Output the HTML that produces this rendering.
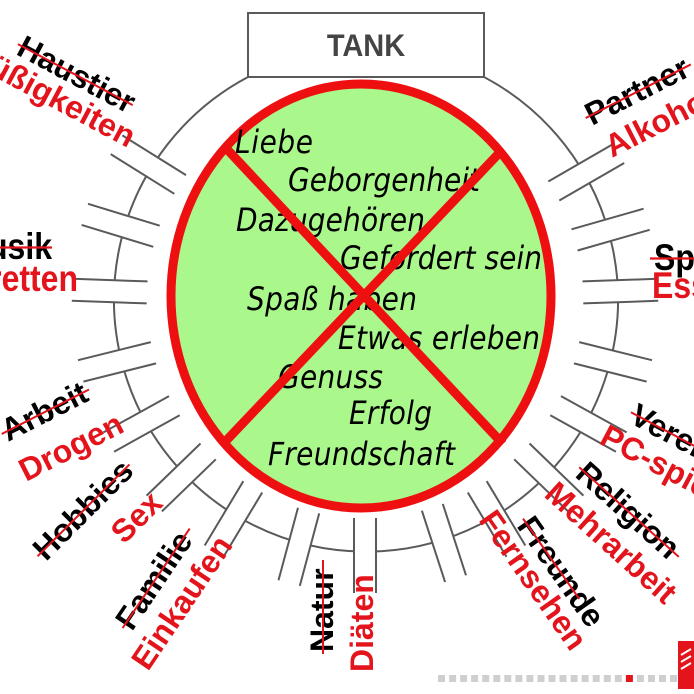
<!DOCTYPE html>
<html><head><meta charset="utf-8"><style>
html,body{margin:0;padding:0;background:#fff;}
svg{display:block;}
.lb{font-family:"Liberation Sans",Arial,sans-serif;font-weight:bold;font-size:32px;}
.k{fill:#000;} .r{fill:#e3141c;}
.it{font-family:"DejaVu Sans",sans-serif;font-style:oblique;font-size:28px;fill:#000;}
</style></head><body>
<svg id="s" width="694" height="694" viewBox="0 0 694 694" xmlns="http://www.w3.org/2000/svg">
<rect width="694" height="694" fill="#fff"/>
<path d="M248 77 A252 252 0 1 0 484 77" fill="none" stroke="#5a5a5a" stroke-width="2"/>
<g id="pipes"></g>
<rect x="248" y="13" width="236" height="64" fill="#fff" stroke="#5a5a5a" stroke-width="2"/>
<text x="366" y="56" text-anchor="middle" font-family="Liberation Sans,Arial,sans-serif" font-weight="bold" font-size="29" fill="#444" transform="matrix(1,0,0,1.1,0,-5.6)">TANK</text>
<ellipse cx="361" cy="296" rx="190" ry="212" fill="#aaf78c" stroke="#ee1010" stroke-width="9"/>
<g class="it">
<text x="235" y="153" textLength="78" transform="matrix(1,0,0,1.15,0,-23)">Liebe</text>
<text x="288" y="191" textLength="192" transform="matrix(1,0,0,1.15,0,-28.7)">Geborgenheit</text>
<text x="236" y="231" textLength="189" transform="matrix(1,0,0,1.15,0,-34.7)">Dazugehören</text>
<text x="340" y="269" textLength="202" transform="matrix(1,0,0,1.15,0,-40.4)">Gefordert sein</text>
<text x="247" y="310" textLength="170" transform="matrix(1,0,0,1.15,0,-46.5)">Spaß haben</text>
<text x="338" y="349" textLength="202" transform="matrix(1,0,0,1.15,0,-52.4)">Etwas erleben</text>
<text x="278" y="388" textLength="105" transform="matrix(1,0,0,1.15,0,-58.2)">Genuss</text>
<text x="349" y="424" textLength="83" transform="matrix(1,0,0,1.15,0,-63.6)">Erfolg</text>
<text x="268" y="465" textLength="187" transform="matrix(1,0,0,1.15,0,-69.8)">Freundschaft</text>
</g>
<line x1="224" y1="146" x2="503" y2="444" stroke="#ee1010" stroke-width="9"/>
<line x1="503" y1="149" x2="223" y2="444" stroke="#ee1010" stroke-width="9"/>

<g class="lb">
<g transform="translate(128,114) rotate(28)"><text class="k" text-anchor="end">Haustier</text><line x1="-130" y1="-10" x2="0" y2="-10" stroke="#e3141c" stroke-width="2"/></g>
<g transform="translate(128,148) rotate(28)"><text class="r" text-anchor="end">Süßigkeiten</text></g>
<g transform="translate(52,259) scale(1,1.15)"><text class="k" text-anchor="end">Musik</text><line x1="-70" y1="-10" x2="0" y2="-10" stroke="#e3141c" stroke-width="2"/></g>
<g transform="translate(78,291) scale(1,1.15)"><text class="r" text-anchor="end">Zigaretten</text></g>
<g transform="translate(8,442) rotate(-27)"><text class="k">Arbeit</text><line x1="-2" y1="-10" x2="96" y2="-10" stroke="#e3141c" stroke-width="2"/></g>
<g transform="translate(26,482) rotate(-27)"><text class="r">Drogen</text></g>
<g transform="translate(46,562) rotate(-45)"><text class="k">Hobbies</text><line x1="-2" y1="-10" x2="128" y2="-10" stroke="#e3141c" stroke-width="2"/></g>
<g transform="translate(124,545) rotate(-45)"><text class="r">Sex</text></g>
<g transform="translate(132,632) rotate(-56)"><text class="k">Familie</text><line x1="-2" y1="-10" x2="118" y2="-10" stroke="#e3141c" stroke-width="2"/></g>
<g transform="translate(148,672) rotate(-56)"><text class="r">Einkaufen</text></g>
<g transform="translate(333,652) rotate(-90)"><text class="k">Natur</text><line x1="-2" y1="-10" x2="92" y2="-10" stroke="#e3141c" stroke-width="2"/></g>
<g transform="translate(373,672) rotate(-90)"><text class="r">Diäten</text></g>
<g transform="translate(478,520) rotate(55)"><text class="r">Fernsehen</text></g>
<g transform="translate(516,526) rotate(55)"><text class="k">Freunde</text><line x1="-2" y1="-10" x2="96" y2="-10" stroke="#e3141c" stroke-width="2"/></g>
<g transform="translate(574,476) rotate(42)"><text class="k">Religion</text><line x1="-2" y1="-10" x2="132" y2="-10" stroke="#e3141c" stroke-width="2"/></g>
<g transform="translate(543,496) rotate(42)"><text class="r">Mehrarbeit</text></g>
<g transform="translate(628,422) rotate(28)"><text class="k">Vereine</text><line x1="-2" y1="-10" x2="124" y2="-10" stroke="#e3141c" stroke-width="2"/></g>
<g transform="translate(598,443) rotate(28)"><text class="r">PC-spielen</text></g>
<g transform="translate(654,270) scale(1,1.15)"><text class="k">Sport</text><line x1="-4" y1="-10" x2="90" y2="-10" stroke="#e3141c" stroke-width="2"/></g>
<g transform="translate(652,298) scale(1,1.15)"><text class="r">Essen</text></g>
<g transform="translate(592,126) rotate(-27)"><text class="k">Partner</text><line x1="-2" y1="-10" x2="116" y2="-10" stroke="#e3141c" stroke-width="2"/></g>
<g transform="translate(612,158) rotate(-27)"><text class="r">Alkohol</text></g>
</g>

<g id="dots"></g>
<rect x="678" y="641" width="16" height="48" fill="#e3141c"/>
<path d="M681 655 l10 -6 M681 662 l10 -6 M681 669 l10 -6" stroke="#fff" stroke-width="2"/>
</svg>
<script>
(function(){
var NS="http://www.w3.org/2000/svg",g=document.getElementById("pipes");
var cx=365,cy=300,angs=[105,121,136,151,166,182,197,212,90,72,59,44,29,14,-2,-16,-30];
function el(n,a){var e=document.createElementNS(NS,n);for(var k in a)e.setAttribute(k,a[k]);g.appendChild(e);return e;}
angs.forEach(function(a){
 var t=a*Math.PI/180,dx=Math.cos(t),dy=Math.sin(t),px=-dy,py=dx,h=11,r1=218,r2=293;
 function P(r,s){return [(cx+dx*r+px*h*s).toFixed(1),(cy+dy*r+py*h*s).toFixed(1)];}
 var a1=P(230,-1),a2=P(270,-1),b1=P(270,1),b2=P(230,1);
 el("polygon",{points:a1+" "+a2+" "+b1+" "+b2,fill:"#fff"});
 [-1,1].forEach(function(s){var p=P(r1,s),q=P(r2,s);el("line",{x1:p[0],y1:p[1],x2:q[0],y2:q[1],stroke:"#5a5a5a","stroke-width":2});});
});
var d=document.getElementById("dots");
for(var i=0;i<22;i++){var x=438+i*11.05;var r=document.createElementNS(NS,"rect");r.setAttribute("x",x.toFixed(1));r.setAttribute("y",675);r.setAttribute("width",7);r.setAttribute("height",7);r.setAttribute("fill",Math.abs(x-622)<5?"#e3141c":"#cfcfcf");d.appendChild(r);}
})();
</script>
</body></html>
